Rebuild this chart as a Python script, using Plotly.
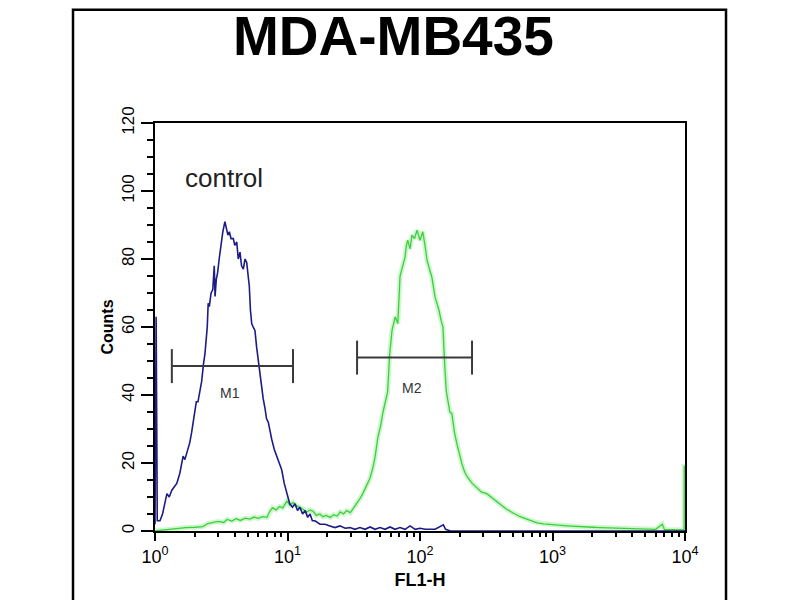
import numpy as np
import plotly.graph_objects as go

# ---- data ----
control_x = [1.00, 1.02, 1.04, 1.09, 1.14, 1.19, 1.23, 1.28, 1.34, 1.40, 1.46, 1.54, 1.60, 1.63, 1.68,
             1.77, 1.83, 1.89, 1.95, 2.00, 2.05, 2.11, 2.18, 2.25, 2.32, 2.38, 2.43, 2.48, 2.52, 2.57,
             2.65, 2.73, 2.80, 2.84, 2.90, 2.97, 3.05, 3.15, 3.25, 3.37, 3.45, 3.55, 3.64, 3.75, 3.90,
             4.00, 4.14, 4.25, 4.38, 4.50, 4.64, 4.78, 4.92, 5.05, 5.15, 5.25, 5.37, 5.50, 5.68, 5.85,
             6.02, 6.20, 6.39, 6.55, 6.77, 6.95, 7.16, 7.40, 7.60, 7.95, 8.28, 8.65, 9.04, 9.45, 9.86,
             10.4, 10.9, 11.4, 11.9, 12.4, 13.0, 13.6, 14.2, 14.8, 15.4, 16.1, 17.6, 19.2, 20.9, 22.8,
             24.9, 27.2, 29.6, 32.3, 35.2, 38.5, 42.0, 45.8, 49.9, 54.5, 59.4, 64.8, 70.7, 77.1, 84.1,
             92.0, 100, 110, 130, 150, 156, 170, 300, 1000, 3000, 10000]
control_y = [2, 63, 3, 3, 5, 9, 11, 10, 12, 13, 14, 17, 21, 22, 21,
             24, 26, 29, 33, 35, 38, 38, 41, 44, 49, 52, 56, 60, 67, 66,
             70, 71, 78, 69, 74, 76, 80, 85, 88, 91, 89, 87, 88, 86, 86,
             84, 85, 80, 82, 78, 77, 80, 79, 74, 72, 65, 61, 60, 59, 54,
             50, 46, 42, 39, 36, 33, 32, 29, 27, 24, 22, 20, 18, 14, 11,
             8, 7, 8, 6, 7, 5, 6, 4, 5, 3, 3, 2, 2, 1.5, 1,
             1.5, 0.8, 1, 0.5, 1, 0.5, 1.2, 0.5, 1, 0.5, 1.2, 0.5, 1, 0.5, 1.5,
             0.5, 0.8, 0.5, 0.5, 1.8, 0.5, 0, 0, 0, 0, 0]

sample_x = [1.00, 1.15, 1.4, 1.7, 2.0, 2.3, 2.5, 2.75, 3.0, 3.3, 3.5, 3.8, 4.1, 4.4, 4.8,
            5.2, 5.6, 6.0, 6.5, 7.0, 7.3, 7.7, 8.2, 8.7, 9.2, 9.9, 10.4, 11.0, 11.7, 12.4,
            13.2, 14.0, 14.8, 15.6, 16.5, 17.5, 18.5, 19.6, 21.0, 22.3, 23.7, 25.0, 26.5, 28.0, 29.8,
            31.6, 33.5, 35.2, 37.0, 39.5, 42.0, 44.0, 45.7, 48.0, 50.5, 52.6, 55.0, 57.0, 59.0, 61.5,
            65.0, 68.0, 70.7, 74.0, 77.0, 79.0, 81.0, 84.0, 87.0, 91.0, 95.0, 100, 105, 109, 113,
            118, 123, 130, 134, 139, 144, 149, 154, 158, 163, 168, 174, 182, 190, 198,
            207, 218, 230, 248, 269, 290, 321, 355, 400, 450, 504, 570, 640, 700, 764,
            860, 960, 1100, 1290, 1500, 1700, 2000, 2290, 2700, 3080, 3500, 4000, 4600, 5300, 6000,
            6740, 7000, 8000, 9000, 9850, 9870, 10000]
sample_y = [0, 0.3, 0.6, 1, 1.1, 1.3, 2.2, 2.6, 2.8, 2.5, 3.4, 2.9, 3.6, 3.1, 3.8,
            3.5, 4.1, 3.7, 4.2, 4.0, 5.6, 6.8, 6.2, 7.2, 6.8, 8.8, 7.6, 8.4, 7.4, 7.0,
            6.4, 5.6, 6.2, 5.8, 4.6, 5.0, 4.2, 4.6, 4.0, 4.8, 4.4, 5.6, 5.0, 6.0, 5.4,
            6.8, 8.0, 9.5, 11.0, 13.2, 15.6, 18.5, 21.5, 27.4, 31, 35, 38, 41, 52, 59,
            63, 61, 75, 78, 80.5, 84, 85.5, 83, 87, 86, 88.5, 85.5, 88, 84, 79.6,
            77, 74.6, 68.7, 67, 65, 62, 60, 48, 41, 38, 35, 34.5, 29, 25.6, 22.5,
            19.8, 17.2, 15.6, 14, 12.7, 11.5, 10.9, 9.5, 8, 6.4, 5.3, 4.2, 3.5, 2.9, 2.4,
            2.1, 2.0, 1.7, 1.5, 1.3, 1.2, 1.1, 1.0, 0.9, 0.8, 0.7, 0.6, 0.6, 0.5, 0.5,
            2.0, 0.4, 0.4, 0.3, 0.3, 19, 19]

gate_names = ["M1", "M2"]
gate_lo = [1.34, 33.5]
gate_hi = [11.0, 247]
gate_level = [48.5, 51]
gate_label_x = [3.7, 87]
gate_label_y = [40.5, 42]

x_tick_vals = [1, 10, 100, 1000, 10000]
x_tick_text = ["10<sup>0</sup>", "10<sup>1</sup>", "10<sup>2</sup>", "10<sup>3</sup>", "10<sup>4</sup>"]
x_minor_vals = [2, 3, 4, 5, 6, 7, 8, 9, 20, 30, 40, 50, 60, 70, 80, 90,
                200, 300, 400, 500, 600, 700, 800, 900, 2000, 3000, 4000, 5000, 6000, 7000, 8000, 9000]
y_tick_vals = [0, 20, 40, 60, 80, 100, 120]

FONT = "Liberation Sans, Arial, sans-serif"
GATE_HALF = 5

fig = go.Figure()

# green sample: soft glow + line
fig.add_trace(go.Scatter(x=sample_x, y=sample_y, mode="lines",
                         line=dict(color="rgba(120,230,120,0.35)", width=5),
                         hoverinfo="skip", showlegend=False))
fig.add_trace(go.Scatter(x=sample_x, y=sample_y, mode="lines",
                         line=dict(color="#3ccf3c", width=1.3), showlegend=False))
# blue control
fig.add_trace(go.Scatter(x=control_x, y=control_y, mode="lines",
                         line=dict(color="#1c1c86", width=1.6), showlegend=False))

# gate bars
for lo, hi, lvl in zip(gate_lo, gate_hi, gate_level):
    fig.add_trace(go.Scatter(
        x=[lo, hi, None, lo, lo, None, hi, hi],
        y=[lvl, lvl, None, lvl - GATE_HALF, lvl + GATE_HALF, None, lvl - GATE_HALF, lvl + GATE_HALF],
        mode="lines", line=dict(color="#3a3a3a", width=2), showlegend=False))

for name, gx, gy in zip(gate_names, gate_label_x, gate_label_y):
    fig.add_annotation(x=np.log10(gx), y=gy, xref="x", yref="y", text=name, showarrow=False,
                       font=dict(family=FONT, size=14, color="#333333"))

# title
fig.add_annotation(x=0.45, y=1.213, xref="paper", yref="paper", text="<b>MDA-MB435</b>",
                   showarrow=False, font=dict(family=FONT, size=55, color="black"),
                   xanchor="center", yanchor="middle")
# control label
fig.add_annotation(x=0.052, y=0.865, xref="paper", yref="paper", text="control",
                   showarrow=False, font=dict(family=FONT, size=26, color="#222222"),
                   xanchor="left", yanchor="middle")

# outer frame
fig.add_shape(type="rect", xref="paper", yref="paper", x0=-0.1547, x1=1.0774, y0=-0.3, y1=1.2775,
              line=dict(color="black", width=2.5), fillcolor="rgba(0,0,0,0)", layer="above")

fig.update_layout(
    width=800, height=600, autosize=False,
    margin=dict(l=147, r=123, t=115, b=77),
    paper_bgcolor="white", plot_bgcolor="white",
    font=dict(family=FONT, color="black"),
    xaxis=dict(type="log", range=[0, 4], tickmode="array", tickvals=x_tick_vals, ticktext=x_tick_text,
               ticks="outside", ticklen=8, tickwidth=1.5, tickcolor="black",
               minor=dict(tickmode="array", tickvals=x_minor_vals, ticks="outside", ticklen=4,
                          tickwidth=1.5, tickcolor="black"),
               showline=True, linecolor="black", linewidth=2, mirror=True,
               showgrid=False, zeroline=False, tickfont=dict(size=18),
               title=dict(text="<b>FL1-H</b>", font=dict(size=18), standoff=8)),
    yaxis=dict(range=[0, 120], tickmode="array", tickvals=y_tick_vals, tickangle=-90,
               ticks="outside", ticklen=12, tickwidth=1.5, tickcolor="black",
               minor=dict(dtick=5, ticks="outside", ticklen=6, tickwidth=1.5, tickcolor="black"),
               showline=True, linecolor="black", linewidth=2, mirror=True,
               showgrid=False, zeroline=False, tickfont=dict(size=17),
               title=dict(text="<b>Counts</b>", font=dict(size=16), standoff=2)),
)

fig.write_html("out.html")
